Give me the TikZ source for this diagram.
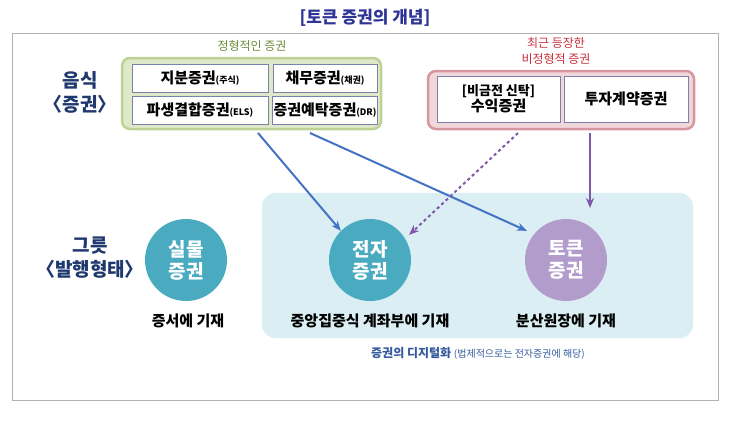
\documentclass[tikz,border=0pt]{standalone}
\usepackage{fontspec}
\setmainfont{Noto Sans CJK KR}
\usetikzlibrary{arrows.meta}
\definecolor{titleblue}{RGB}{46,52,150}
\definecolor{headblue}{RGB}{31,56,110}
\definecolor{greenfill}{RGB}{223,232,200}
\definecolor{greenline}{RGB}{190,210,150}
\definecolor{greentext}{RGB}{110,140,60}
\definecolor{pinkfill}{RGB}{242,215,218}
\definecolor{pinkline}{RGB}{214,150,160}
\definecolor{redtext}{RGB}{200,50,60}
\definecolor{cellline}{RGB}{120,130,170}
\definecolor{skyfill}{RGB}{218,238,243}
\definecolor{tealc}{RGB}{74,170,192}
\definecolor{lilac}{RGB}{178,156,203}
\definecolor{arrowblue}{RGB}{68,114,196}
\definecolor{arrowpurple}{RGB}{128,86,170}
\tikzset{
  cellbox/.style={draw=cellline,fill=white,line width=1pt,font=\bfseries\fontsize{15}{18}\selectfont,align=center,inner sep=1pt},
  circnode/.style={circle,minimum size=82pt,text=white,font=\bfseries\fontsize{19}{22}\selectfont,align=center,inner sep=0pt},
  caption/.style={font=\bfseries\fontsize{15}{18}\selectfont},
  bluearrow/.style={-{Stealth[length=10pt,width=8pt]},draw=arrowblue,line width=2pt},
  purplearrow/.style={-{Stealth[length=10pt,width=8pt]},draw=arrowpurple,line width=2pt},
}
\begin{document}
\begin{tikzpicture}[x=1pt,y=-1pt]
\useasboundingbox (0,0) rectangle (730,432);
% title and frame
\node[font=\bfseries\fontsize{17}{20}\selectfont,text=titleblue] (title) at (365,18) {[토큰 증권의 개념]};
\draw[gray!60,line width=0.5pt] (12,33) rectangle (718,400);
% row heads
\node[font=\bfseries\fontsize{19}{24}\selectfont,text=headblue,align=center] (food) at (80,92) {음식\\〈증권〉};
\node[font=\bfseries\fontsize{19}{24}\selectfont,text=headblue,align=center] (bowl) at (90,258) {그릇\\〈발행형태〉};
% group boxes
\draw[greenline,fill=greenfill,line width=2.5pt,rounded corners=8pt] (122,58) rectangle (381,129);
\node[text=greentext,font=\fontsize{12}{14}\selectfont] (glabel) at (252,46) {정형적인 증권};
\draw[pinkline,fill=pinkfill,line width=2.5pt,rounded corners=8pt] (428,71) rectangle (694,129);
\node[text=redtext,font=\fontsize{12}{16}\selectfont,align=center] (plabel) at (556,51) {최근 등장한\\비정형적 증권};
\draw[skyfill,fill=skyfill,rounded corners=14pt] (262,193) rectangle (693,338);
% cells
\node[cellbox,minimum width=136pt,minimum height=28pt] (equity) at (200,78.5) {지분증권{\fontsize{9}{10}\selectfont(주식)}};
\node[cellbox,minimum width=104pt,minimum height=28pt] (debt) at (325,78.5) {채무증권{\fontsize{9}{10}\selectfont(채권)}};
\node[cellbox,minimum width=136pt,minimum height=28pt] (deriv) at (200,110) {파생결합증권{\fontsize{9}{10}\selectfont(ELS)}};
\node[cellbox,minimum width=104pt,minimum height=28pt] (depos) at (325,110) {증권예탁증권{\fontsize{9}{10}\selectfont(DR)}};
\node[cellbox,minimum width=123pt,minimum height=46pt,font=\bfseries\fontsize{13}{16}\selectfont] (trust) at (498.5,99) {[비금전 신탁]\\{\fontsize{15}{17}\selectfont 수익증권}};
\node[cellbox,minimum width=124pt,minimum height=46pt] (invest) at (626,99) {투자계약증권};
% circles
\node[circnode,fill=tealc] (paper) at (186,260) {실물\\증권};
\node[circnode,fill=tealc] (elec) at (370,260) {전자\\증권};
\node[circnode,fill=lilac] (token) at (566,260) {토큰\\증권};
\node[caption] (paperc) at (188,321) {증서에 기재};
\node[caption] (elecc) at (370,321) {중앙집중식 계좌부에 기재};
\node[caption] (tokenc) at (566,321) {분산원장에 기재};
\node[text=arrowblue!80!black,font=\bfseries\fontsize{12}{14}\selectfont] (note) at (478,353) {증권의 디지털화 {\mdseries\fontsize{10}{12}\selectfont(법제적으로는 전자증권에 해당)}};
% arrows
\coordinate (b1) at (258,133);
\coordinate (b2) at (310,133);
\coordinate (p1) at (518,133);
\coordinate (p2) at (590,133);
\coordinate (tokentop) at (590,208);
\draw[bluearrow] (b1) -- (elec.north west);
\draw[bluearrow] (b2) -- ([xshift=-10pt]token.north west);
\draw[purplearrow,dashed] (p1) -- ([xshift=10pt,yshift=-4pt]elec.north east);
\draw[purplearrow] (p2) -- (tokentop);
\end{tikzpicture}
\end{document}
